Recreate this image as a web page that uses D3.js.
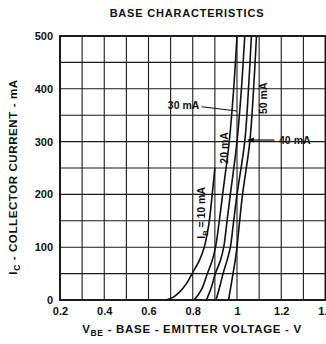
<!DOCTYPE html>
<html><head><meta charset="utf-8">
<script src="https://cdn.jsdelivr.net/npm/d3@7"></script>
<style>
html,body{margin:0;padding:0;background:#fff;}
svg{display:block;font-family:"Liberation Sans",Arial,Helvetica,sans-serif;font-weight:bold;fill:#111;}
</style></head><body>
<svg id="chart" width="326" height="344"></svg>
<script>
// Axis ticks
const xTicks = [0.2, 0.4, 0.6, 0.8, 1.0, 1.2, 1.4];
const xTickLabels = ["0.2", "0.4", "0.6", "0.8", "1", "1.2", "1.4"];
const yTicks = [0, 100, 200, 300, 400, 500];

// Base current of each curve
const baseCurrents = ["10 mA", "20 mA", "30 mA", "40 mA", "50 mA"];

// Collector current (mA) and base-emitter voltage (V) along each curve
const ic10  = [0, 5, 15, 30, 50, 75, 100, 125, 150, 200, 250];
const vbe10 = [0.68, 0.71, 0.74, 0.77, 0.797, 0.83, 0.852, 0.865, 0.875, 0.888, 0.90];
const ic20  = [0, 10, 25, 50, 75, 100, 150, 200, 300, 400, 500];
const vbe20 = [0.805, 0.825, 0.845, 0.866, 0.888, 0.903, 0.92, 0.935, 0.965, 0.985, 1.0];
const ic30  = [0, 25, 50, 75, 100, 150, 200, 300, 400, 500];
const vbe30 = [0.862, 0.885, 0.902, 0.925, 0.94, 0.955, 0.97, 1.0, 1.02, 1.035];
const ic40  = [0, 25, 50, 75, 100, 150, 200, 300, 400, 500];
const vbe40 = [0.905, 0.922, 0.937, 0.955, 0.97, 0.985, 1.0, 1.035, 1.052, 1.065];
const ic50  = [0, 25, 50, 75, 100, 150, 200, 300, 400, 500];
const vbe50 = [0.962, 0.972, 0.982, 0.992, 1.0, 1.012, 1.025, 1.058, 1.075, 1.088];

const curves = [
  {ib: baseCurrents[0], ic: ic10, v: vbe10},
  {ib: baseCurrents[1], ic: ic20, v: vbe20},
  {ib: baseCurrents[2], ic: ic30, v: vbe30},
  {ib: baseCurrents[3], ic: ic40, v: vbe40},
  {ib: baseCurrents[4], ic: ic50, v: vbe50}
];

const svg = d3.select("#chart");
const x = d3.scaleLinear().domain([0.2, 1.4]).range([60, 325.5]);
const y = d3.scaleLinear().domain([0, 500]).range([300, 36]);

// Grid: every 0.1 V and every 50 mA
const grid = svg.append("g").attr("stroke", "#1a1a1a").attr("stroke-width", 1.1);
grid.selectAll("line.v").data(d3.range(2, 15).map(d => d / 10)).join("line")
  .attr("x1", d => x(d)).attr("x2", d => x(d))
  .attr("y1", y(0)).attr("y2", y(500));
grid.selectAll("line.h").data(d3.range(0, 501, 50)).join("line")
  .attr("x1", x(0.2)).attr("x2", x(1.4))
  .attr("y1", d => y(d)).attr("y2", d => y(d));

// Frame
svg.append("rect")
  .attr("x", x(0.2)).attr("y", y(500))
  .attr("width", x(1.4) - x(0.2)).attr("height", y(0) - y(500))
  .attr("fill", "none").attr("stroke", "#111").attr("stroke-width", 1.8);

// Axes
const xAxis = svg.append("g").attr("transform", `translate(0,${y(0)})`)
  .call(d3.axisBottom(x).tickValues(xTicks).tickSize(0).tickPadding(7)
    .tickFormat((d, i) => xTickLabels[i]));
const yAxis = svg.append("g").attr("transform", `translate(${x(0.2)},0)`)
  .call(d3.axisLeft(y).tickValues(yTicks).tickSize(0).tickPadding(7));
[xAxis, yAxis].forEach(a => {
  a.select(".domain").remove();
  a.selectAll("text").attr("font-size", 11).attr("font-weight", "bold")
    .attr("font-family", '"Liberation Sans", Arial, sans-serif').attr("fill", "#111");
});

// Curves
const line = d3.line()
  .x(d => x(d[0])).y(d => y(d[1]))
  .curve(d3.curveCatmullRom.alpha(0.5));
svg.append("g").selectAll("path").data(curves).join("path")
  .attr("d", c => line(c.v.map((v, i) => [v, c.ic[i]])))
  .attr("fill", "none").attr("stroke", "#111").attr("stroke-width", 1.6);

// Curve labels
const lab = svg.append("g").attr("font-size", 10.5).attr("fill", "#111");
lab.append("text").attr("x", x(0.83)).attr("y", y(362)).attr("text-anchor", "end")
  .text(baseCurrents[2]);
lab.append("line").attr("x1", x(0.84)).attr("y1", y(366))
  .attr("x2", x(1.0)).attr("y2", y(358)).attr("stroke", "#111").attr("stroke-width", 1.1);

lab.append("line").attr("x1", x(1.05)).attr("y1", y(303))
  .attr("x2", x(1.17)).attr("y2", y(303)).attr("stroke", "#111").attr("stroke-width", 1.2);
lab.append("path")
  .attr("d", `M${x(1.045)},${y(303)} l7,-2.5 l0,5 z`).attr("fill", "#111");
lab.append("text").attr("x", x(1.19)).attr("y", y(303) + 3.8).text(baseCurrents[3]);

lab.append("text").attr("transform", `translate(${x(1.118)},${y(382)}) rotate(-90)`)
  .attr("text-anchor", "middle").attr("dy", "0.35em").text(baseCurrents[4]);
lab.append("text").attr("transform", `translate(${x(0.944)},${y(288)}) rotate(-90)`)
  .attr("text-anchor", "middle").attr("dy", "0.35em").text(baseCurrents[1]);

const ibLab = lab.append("text")
  .attr("transform", `translate(${x(0.838)},${y(165)}) rotate(-90)`)
  .attr("text-anchor", "middle").attr("dy", "0.35em");
ibLab.append("tspan").text("I");
ibLab.append("tspan").attr("dy", "3").attr("font-size", 7.5).text("B");
ibLab.append("tspan").attr("dy", "-3").text(" = " + baseCurrents[0]);

// Title
svg.append("text").attr("x", 187).attr("y", 17).attr("text-anchor", "middle")
  .attr("font-size", 11).attr("letter-spacing", 0.8).text("BASE CHARACTERISTICS");

// X axis title
const xt = svg.append("text").attr("x", 192).attr("y", 333).attr("text-anchor", "middle")
  .attr("font-size", 11.5).attr("letter-spacing", 0.7);
xt.append("tspan").text("V");
xt.append("tspan").attr("dy", 3).attr("font-size", 8.5).text("BE");
xt.append("tspan").attr("dy", -3).text(" - BASE - EMITTER VOLTAGE - V");

// Y axis title
const yt = svg.append("text").attr("transform", `translate(17,${(y(0) + y(500)) / 2 + 9}) rotate(-90)`)
  .attr("text-anchor", "middle").attr("font-size", 11.5).attr("letter-spacing", 0.6);
yt.append("tspan").text("I");
yt.append("tspan").attr("dy", 3).attr("font-size", 8.5).text("C");
yt.append("tspan").attr("dy", -3).text(" - COLLECTOR CURRENT - mA");
</script>
</body></html>
